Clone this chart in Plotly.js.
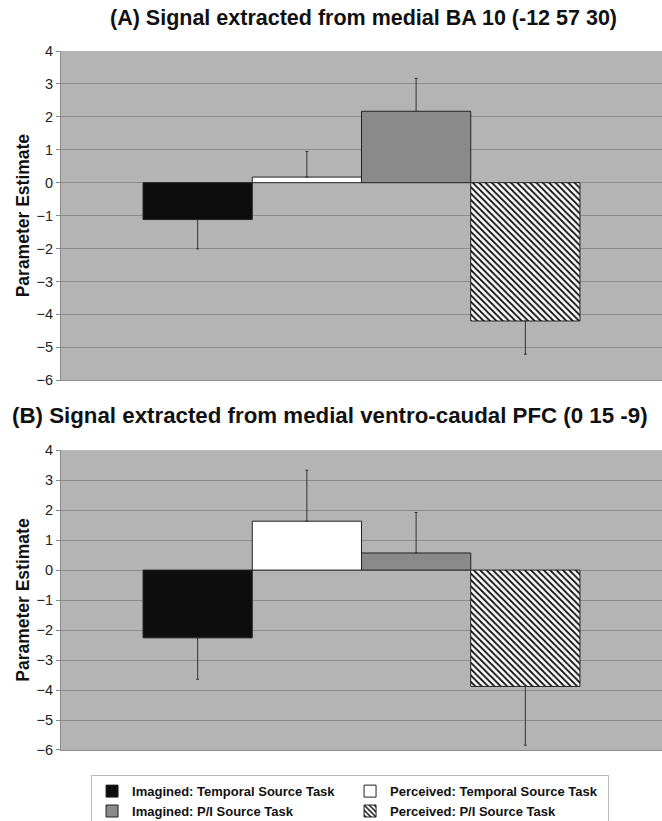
<!DOCTYPE html>
<html>
<head>
<meta charset="utf-8">
<script src="https://cdn.plot.ly/plotly-3.0.1.min.js"></script>
<style>html,body{margin:0;padding:0;background:#fff;}#chart{width:662px;height:821px;}</style>
</head>
<body>
<div id="chart"></div>
<script>
// Data
var seriesNames = [
  "Imagined: Temporal Source Task",
  "Perceived: Temporal Source Task",
  "Imagined: P/I Source Task",
  "Perceived: P/I Source Task"
];
var category = ["Condition"];
var panelTitles = [
  "(A) Signal extracted from medial BA 10 (-12 57 30)",
  "(B) Signal extracted from medial ventro-caudal PFC (0 15 -9)"
];
var valuesA = [-1.12, 0.17, 2.17, -4.20];
var errorsA = [0.89, 0.78, 1.00, 1.01];
var valuesB = [-2.26, 1.63, 0.57, -3.88];
var errorsB = [1.38, 1.70, 1.35, 1.96];
var yTickVals = [-6, -5, -4, -3, -2, -1, 0, 1, 2, 3, 4];

var FONT = "Arial, 'Liberation Sans', sans-serif";
var fills = ["#0d0d0d", "#ffffff", "#8a8a8a", "#ffffff"];
var patterns = [null, null, null, {shape: "\\", fgcolor: "#111111", bgcolor: "#ffffff", size: 4.5, solidity: 0.4, fillmode: "replace"}];

function makeTraces(values, errors, xa, ya, showLeg) {
  return values.map(function (v, i) {
    var up = v >= 0 ? errors[i] : 0;
    var dn = v < 0 ? errors[i] : 0;
    var marker = {color: fills[i], line: {color: "#222", width: 1}};
    if (patterns[i]) marker.pattern = patterns[i];
    return {
      type: "bar",
      name: seriesNames[i],
      legendgroup: "g" + i,
      showlegend: showLeg,
      x: category,
      y: [v],
      xaxis: xa,
      yaxis: ya,
      marker: marker,
      error_y: {type: "data", symmetric: false, array: [up], arrayminus: [dn], color: "#333", thickness: 1, width: 1.5},
      hoverinfo: "skip"
    };
  });
}

var data = makeTraces(valuesA, errorsA, "x", "y", true)
  .concat(makeTraces(valuesB, errorsB, "x2", "y2", false));

function yax(domain, anchor) {
  return {
    domain: domain,
    anchor: anchor,
    range: [-6, 4],
    tickvals: yTickVals,
    ticks: "outside",
    ticklen: 4,
    tickcolor: "#888",
    tickfont: {family: FONT, size: 14.5, color: "#222"},
    showgrid: true,
    gridcolor: "#8c8c8c",
    gridwidth: 1,
    zeroline: false,
    showline: true,
    linecolor: "#8c8c8c",
    linewidth: 1,
    title: {text: "Parameter Estimate", font: {family: FONT, size: 17.5, color: "#111", weight: "bold"}, standoff: 2}
  };
}
function xax(anchor) {
  return {
    anchor: anchor,
    showticklabels: false,
    ticks: "",
    showgrid: false,
    zeroline: false,
    showline: true,
    linecolor: "#8c8c8c",
    linewidth: 1
  };
}

var layout = {
  width: 662,
  height: 821,
  margin: {l: 61, r: 0, t: 51, b: 71, autoexpand: false},
  paper_bgcolor: "#ffffff",
  plot_bgcolor: "#b4b4b4",
  font: {family: FONT, color: "#111"},
  barmode: "group",
  bargap: 0.273,
  bargroupgap: 0,
  xaxis: xax("y"),
  yaxis: yax([0.529, 1], "x"),
  xaxis2: xax("y2"),
  yaxis2: yax([0, 0.429], "x2"),
  showlegend: true,
  legend: {
    orientation: "h",
    x: 0.05, xanchor: "left",
    y: -0.036, yanchor: "top",
    bgcolor: "#ffffff",
    bordercolor: "#bbbbbb",
    borderwidth: 1,
    entrywidth: 213,
    itemwidth: 30,
    tracegroupgap: 0,
    font: {family: FONT, size: 13, color: "#111", weight: "bold"},
    traceorder: "normal"
  },
  annotations: [
    {text: "<b>" + panelTitles[0] + "</b>", xref: "paper", yref: "paper", x: 0.5025, y: 1.047, xanchor: "center", yanchor: "middle", showarrow: false, font: {family: FONT, size: 21.5, color: "#111"}},
    {text: "<b>" + panelTitles[1] + "</b>", xref: "paper", yref: "paper", x: 0.4476, y: 0.479, xanchor: "center", yanchor: "middle", showarrow: false, font: {family: FONT, size: 22.3, color: "#111"}}
  ]
};

Plotly.newPlot("chart", data, layout, {displayModeBar: false, staticPlot: true});
</script>
</body>
</html>
